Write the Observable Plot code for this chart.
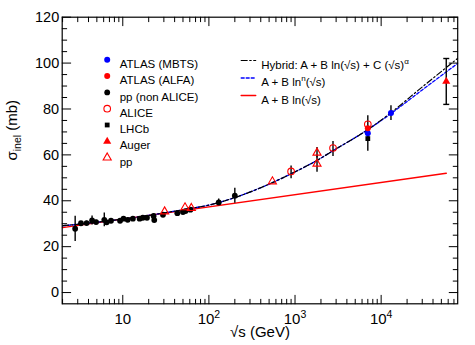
<!DOCTYPE html>
<html><head><meta charset="utf-8">
<script src="https://cdn.jsdelivr.net/npm/d3@7"></script>
<script src="https://cdn.jsdelivr.net/npm/@observablehq/plot@0.6"></script>
<style>body{margin:0;background:#fff}#chart{width:475px;height:345px}</style>
</head><body><div id="chart"></div>
<script>
// ---------------- data ----------------
// pp (non ALICE), filled black circles
const ppSqrtS = [2.8, 3.27, 3.8, 4.4, 4.9, 6.1, 6.5, 7.3, 9.3, 10.2, 11.4, 13.1, 15.7, 17.1, 19.1, 22.8, 23.2, 29.3, 43, 50, 53.5, 61, 130, 200];
const ppSigma = [27.8, 30.2, 30.3, 31.4, 30.7, 31.7, 30.6, 31.3, 31.3, 32.2, 31.7, 32.2, 32.2, 32.6, 32.6, 33.4, 31.6, 33.9, 34.6, 35.1, 35.5, 36.1, 39.3, 42.2];
const ppErr   = [5.5, 0.8, 0.8, 2.0, 0.8, 3.0, 0.8, 0.8, 0.8, 0.8, 0.8, 0.8, 0.8, 0.8, 0.8, 0.8, 0.8, 0.8, 0.8, 0.8, 0.8, 0.8, 1.5, 3.3];
// pp, open red triangles
const ppTriSqrtS = [30.6, 52.8, 62.5, 546, 1800, 1800];
const ppTriSigma = [35.3, 37.1, 36.8, 48.4, 60.9, 56.1];
const ppTriErr   = [0, 0, 0, 0, 2.3, 3.7];
// ALICE, open red circles
const aliceSqrtS = [900, 2760, 7000];
const aliceSigma = [52.8, 63.0, 73.3];
const aliceLow   = [49.6, 59.3, 70.0];
const aliceHigh  = [55.2, 65.8, 77.0];
// ATLAS (MBTS), blue
const mbtsSqrtS = [7000, 13000];
const mbtsSigma = [69.4, 78.2];
const mbtsErr   = [2.4, 3.2];
// ATLAS (ALFA), red
const alfaSqrtS = [7000];
const alfaSigma = [71.6];
// LHCb, black square
const lhcbSqrtS = [7000];
const lhcbSigma = [67.1];
const lhcbErr   = [5.5];
// Auger, filled red triangle
const augerSqrtS = [57000];
const augerSigma = [92.0];
const augerErr   = [10.0];
// fitted curves
const lnSqrtS = [2, 57000];
const lnSigma = [28.3, 52.0];
const lnnSqrtS = [2, 10, 60, 100, 200, 546, 1000, 1800, 2760, 7000, 13000, 30000, 77000];
const lnnSigma = [29.1, 32.0, 36.6, 38.1, 41.4, 47.9, 52.6, 57.6, 61.8, 71.0, 78.0, 88.3, 99.8];
const hybSqrtS = [2, 10, 60, 100, 200, 546, 1000, 1800, 2760, 7000, 13000, 30000, 77000];
const hybSigma = [29.1, 32.0, 36.6, 38.1, 41.4, 47.9, 52.6, 57.6, 61.8, 71.0, 78.4, 89.6, 102.0];
// axes
const xMajor = [10, 100, 1000, 10000];
const xMajorLabels = ["10", "10^{2}", "10^{3}", "10^{4}"];
const yMajor = [0, 20, 40, 60, 80, 100, 120];
const yMajorLabels = ["0", "20", "40", "60", "80", "100", "120"];
const xTitle = "√s (GeV)";
const yTitle = "σ_{inel} (mb)";
const legendLeft = ["ATLAS (MBTS)", "ATLAS (ALFA)", "pp (non ALICE)", "ALICE", "LHCb", "Auger", "pp"];
const legendRight = ["Hybrid: A + B ln(√s) + C (√s)^{α}", "A + B ln^{n}(√s)", "A + B ln(√s)"];

// ---------------- build tables ----------------
const zip = (xs, ys, f) => xs.map((x, i) => ({x, y: ys[i], ...(f ? f(i) : {})}));
const pp = zip(ppSqrtS, ppSigma, i => ({lo: ppSigma[i] - ppErr[i], hi: ppSigma[i] + ppErr[i]}));
const ppTri = zip(ppTriSqrtS, ppTriSigma, i => ({lo: ppTriSigma[i] - ppTriErr[i], hi: ppTriSigma[i] + ppTriErr[i]}));
const alice = zip(aliceSqrtS, aliceSigma, i => ({lo: aliceLow[i], hi: aliceHigh[i]}));
const mbts = zip(mbtsSqrtS, mbtsSigma, i => ({lo: mbtsSigma[i] - mbtsErr[i], hi: mbtsSigma[i] + mbtsErr[i]}));
const alfa = zip(alfaSqrtS, alfaSigma);
const lhcb = zip(lhcbSqrtS, lhcbSigma, i => ({lo: lhcbSigma[i] - lhcbErr[i], hi: lhcbSigma[i] + lhcbErr[i]}));
const auger = zip(augerSqrtS, augerSigma, i => ({lo: augerSigma[i] - augerErr[i], hi: augerSigma[i] + augerErr[i]}));
const lnCurve = zip(lnSqrtS, lnSigma);
const lnnCurve = zip(lnnSqrtS, lnnSigma);
const hybCurve = zip(hybSqrtS, hybSigma);
const errAll = [...pp, ...ppTri.filter(d => d.hi > d.lo), ...alice, ...mbts, ...lhcb, ...auger];
const augerCaps = auger.flatMap(d => [{x: d.x, y: d.lo}, {x: d.x, y: d.hi}]);

// ---------------- styles ----------------
const RED = "#ff0000", BLUE = "#0000ff";
const st = {
  mbts:  {symbol: "circle", fill: BLUE, stroke: "none", r: 3},
  alfa:  {symbol: "circle", fill: RED, stroke: "none", r: 3},
  pp:    {symbol: "circle", fill: "black", stroke: "none", r: 2.9},
  alice: {symbol: "circle", fill: "none", stroke: RED, strokeWidth: 1.1, r: 3.3},
  lhcb:  {symbol: "square", fill: "black", stroke: "none", r: 2.7},
  auger: {symbol: "triangle", fill: RED, stroke: "none", r: 3},
  ppTri: {symbol: "triangle", fill: "none", stroke: RED, strokeWidth: 1.1, r: 3}
};
const legendStyles = [st.mbts, st.alfa, st.pp, st.alice, st.lhcb, st.auger, st.ppTri];
const lineStyles = [
  {stroke: "black", strokeWidth: 1.2, strokeDasharray: "6,2.5,1.5,2.5"},
  {stroke: BLUE, strokeWidth: 1.3, strokeDasharray: "3,2"},
  {stroke: RED, strokeWidth: 1.5}
];
const capSymbol = {draw(ctx) { ctx.moveTo(-3, 0); ctx.lineTo(3, 0); }};

// ticks
const xMinor = [];
for (let k = 0; k <= 4; k++) for (let m = 2; m <= 9; m++) { const v = m * 10 ** k; if (v <= 77400) xMinor.push(v); }
const yMinor = d3.range(0, 121, 5).filter(v => v % 20 !== 0);
const tickShape = {draw(ctx, l) { ctx.moveTo(0, 0); ctx.lineTo(0, -l); }};
const vt = (vals, o) => Plot.vector(vals, {anchor: "start", shape: tickShape, stroke: "black", strokeWidth: 1, ...o});
const tickSet = (xs, ys, len) => [
  vt(xs, {x: d => d, frameAnchor: "bottom", rotate: 0, length: len}),
  vt(xs, {x: d => d, frameAnchor: "top", rotate: 180, length: len}),
  vt(ys, {y: d => d, frameAnchor: "left", rotate: 90, length: len}),
  vt(ys, {y: d => d, frameAnchor: "right", rotate: -90, length: len})
];
const dotOf = (data, s) => Plot.dot(data, {x: "x", y: "y", ...s});

// legend marks
const LFS = 11.5;
const legendMarks = [];
legendLeft.forEach((lab, i) => {
  const dy = 42.6 + i * 16.3;
  legendMarks.push(Plot.dot([lab], {frameAnchor: "top-left", dx: 45, dy, ...legendStyles[i]}));
  legendMarks.push(Plot.text([lab], {frameAnchor: "top-left", dx: 57.5, dy, text: d => d, textAnchor: "start", fontSize: LFS}));
});
legendRight.forEach((lab, i) => {
  const dy = 43.3 + i * 17.5;
  legendMarks.push(vt([lab], {frameAnchor: "top-left", dx: 179, dy, rotate: 90, length: 14.5, ...lineStyles[i]}));
  legendMarks.push(Plot.text([lab], {frameAnchor: "top-left", dx: 199, dy, text: d => d, textAnchor: "start", fontSize: LFS}));
});

const chart = Plot.plot({
  width: 475, height: 345,
  marginLeft: 61.7, marginRight: 17.8, marginTop: 16.7, marginBottom: 41.7,
  x: {type: "log", domain: [1.98, 77400]},
  y: {domain: [-4.9, 120]},
  style: {fontFamily: "'Liberation Sans', Arial, Helvetica, sans-serif", fontSize: "12px", background: "white", color: "black"},
  marks: [
    Plot.line(lnCurve, {x: "x", y: "y", ...lineStyles[2]}),
    Plot.line(lnnCurve, {x: "x", y: "y", curve: "monotone-x", ...lineStyles[1]}),
    Plot.line(hybCurve, {x: "x", y: "y", curve: "monotone-x", ...lineStyles[0]}),
    Plot.ruleX(errAll, {x: "x", y1: "lo", y2: "hi", stroke: "black", strokeWidth: 1.4}),
    Plot.dot(augerCaps, {x: "x", y: "y", symbol: capSymbol, stroke: "black", strokeWidth: 1.4, fill: "none"}),
    dotOf(pp, st.pp),
    dotOf(lhcb, st.lhcb),
    dotOf(mbts, st.mbts),
    dotOf(alfa, st.alfa),
    dotOf(alice, st.alice),
    dotOf(ppTri, st.ppTri),
    dotOf(auger, st.auger),
    ...tickSet(xMajor, yMajor, 8.5),
    ...tickSet(xMinor, yMinor, 4.5),
    Plot.frame({stroke: "black", strokeWidth: 1.2}),
    Plot.axisX({ticks: xMajor, tickSize: 0, tickPadding: 10, fontSize: 15, label: null,
      tickFormat: d => xMajorLabels[xMajor.indexOf(d)]}),
    Plot.axisY({ticks: yMajor, tickSize: 0, tickPadding: 3, fontSize: 14.5, label: null,
      tickFormat: d => yMajorLabels[yMajor.indexOf(d)]}),
    Plot.text([xTitle], {frameAnchor: "bottom", dy: 33, text: d => d, lineAnchor: "bottom", fontSize: 15}),
    Plot.text([yTitle], {frameAnchor: "left", dx: -45.5, rotate: -90, text: d => d, lineAnchor: "bottom", fontSize: 15}),
    ...legendMarks
  ]
});
document.getElementById("chart").appendChild(chart);

// super/subscripts in text
function rich(svg) {
  const NS = "http://www.w3.org/2000/svg";
  for (const t of svg.querySelectorAll("text")) {
    const s = t.textContent;
    if (!/[\^_]\{/.test(s)) continue;
    const fs = parseFloat(getComputedStyle(t).fontSize) || 12;
    const parts = s.split(/([\^_]\{[^}]*\})/).filter(p => p);
    t.textContent = "";
    let shift = 0;
    for (const p of parts) {
      const ts = document.createElementNS(NS, "tspan");
      let target = 0, txt = p;
      if (p[0] === "^") { target = -0.42 * fs; txt = p.slice(2, -1); ts.setAttribute("font-size", 0.7 * fs); }
      else if (p[0] === "_") { target = 0.3 * fs; txt = p.slice(2, -1); ts.setAttribute("font-size", 0.7 * fs); }
      const dy = target - shift;
      if (dy) ts.setAttribute("dy", dy);
      shift = target;
      ts.textContent = txt;
      t.appendChild(ts);
    }
  }
}
rich(chart);
</script></body></html>
